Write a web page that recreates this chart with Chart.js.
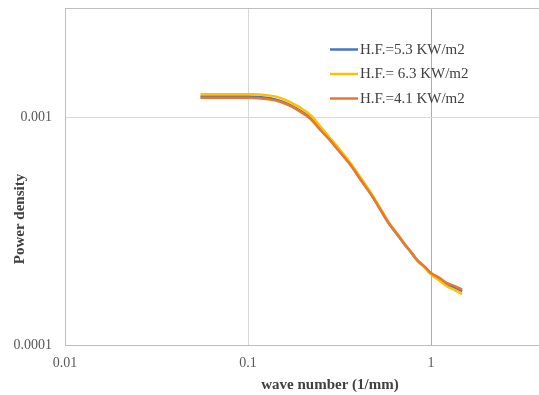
<!DOCTYPE html>
<html>
<head>
<meta charset="utf-8">
<script src="https://cdn.jsdelivr.net/npm/chart.js@4.4.1/dist/chart.umd.min.js"></script>
<style>
    html, body { margin: 0; padding: 0; background: #ffffff; }
    #wrap { width: 539px; height: 395px; }
</style>
</head>
<body>
<div id="wrap"><canvas id="spectrumChart"></canvas></div>
<script>
// wave number (1/mm), shared by all three runs
const waveNumber = [0.055, 0.07, 0.1, 0.13, 0.15, 0.17, 0.19, 0.22, 0.25, 0.28, 0.32, 0.36, 0.42,
    0.48, 0.53, 0.59, 0.65, 0.72, 0.78, 0.84, 0.92, 1.0, 1.1, 1.22, 1.35, 1.48];

// power density per heat flux
const hf53 = [0.001232, 0.001232, 0.001232, 0.001212, 0.001177, 0.001128, 0.001074, 0.000988, 0.000881,
    0.000795, 0.000699, 0.000624, 0.000522, 0.000447, 0.000392, 0.00034, 0.000307, 0.000275, 0.000254,
    0.000235, 0.00022, 0.000206, 0.000196, 0.000185, 0.0001785, 0.0001725];
const hf63 = [0.001258, 0.001259, 0.00126, 0.001245, 0.001214, 0.001164, 0.001108, 0.00102, 0.000904,
    0.000812, 0.000714, 0.000634, 0.000531, 0.000452, 0.000397, 0.000343, 0.00031, 0.000276, 0.000255,
    0.000236, 0.000219, 0.000204, 0.000193, 0.000181, 0.0001742, 0.0001675];
const hf41 = [0.001215, 0.001215, 0.001216, 0.001197, 0.001167, 0.001119, 0.001065, 0.00098, 0.000873,
    0.000792, 0.000697, 0.000622, 0.00052, 0.000446, 0.000391, 0.000341, 0.000308, 0.000276, 0.000255,
    0.000236, 0.000221, 0.000207, 0.000198, 0.000187, 0.0001814, 0.0001753];

const seriesLabels = ['H.F.=5.3 KW/m2', 'H.F.= 6.3 KW/m2', 'H.F.=4.1 KW/m2'];
const seriesColors = ['#4677C0', '#FFC000', '#E8782F'];

const xTicks = [0.01, 0.1, 1];
const yTicks = [0.0001, 0.001];
const xTitle = 'wave number (1/mm)';
const yTitle = 'Power density';

const serif = "'Liberation Serif', 'Times New Roman', serif";

function toPoints(values) {
    return waveNumber.map((x, i) => ({ x: x, y: values[i] }));
}

// frame around the plot, the legend inside it and both axis titles
const decorations = {
    id: 'decorations',
    beforeDatasetsDraw(chart) {
        const { ctx, chartArea } = chart;
        ctx.save();
        ctx.strokeStyle = '#BFBFBF';
        ctx.lineWidth = 1;
        ctx.strokeRect(chartArea.left + 0.5, chartArea.top + 0.5,
            chartArea.right - chartArea.left, chartArea.bottom - chartArea.top);
        ctx.restore();
    },
    afterDraw(chart) {
        const ctx = chart.ctx;
        ctx.save();

        // legend
        ctx.font = '15px ' + serif;
        ctx.textBaseline = 'middle';
        ctx.textAlign = 'left';
        chart.data.datasets.forEach((ds, i) => {
            const y = 49.5 + i * 24.5;
            ctx.strokeStyle = ds.borderColor;
            ctx.lineWidth = 2.5;
            ctx.beginPath();
            ctx.moveTo(330, y);
            ctx.lineTo(358, y);
            ctx.stroke();
            ctx.fillStyle = '#404040';
            ctx.fillText(ds.label, 360, y + 0.5);
        });

        // axis titles
        ctx.font = 'bold 15px ' + serif;
        ctx.fillStyle = '#404040';
        ctx.textAlign = 'center';
        ctx.fillText(xTitle, 330, 385);

        ctx.translate(20, 219);
        ctx.rotate(-Math.PI / 2);
        ctx.fillText(yTitle, 0, 0);
        ctx.restore();
    }
};

const datasets = [hf53, hf63, hf41].map((values, i) => ({
    label: seriesLabels[i],
    data: toPoints(values),
    borderColor: seriesColors[i],
    backgroundColor: seriesColors[i],
    borderWidth: 2.5,
    pointRadius: 0,
    cubicInterpolationMode: 'monotone',
    fill: false,
    // 4.1 drawn on top, 5.3 underneath
    order: 3 - i
}));

const ctx = document.getElementById('spectrumChart').getContext('2d');

new Chart(ctx, {
    type: 'line',
    data: { datasets: datasets },
    options: {
        responsive: true,
        maintainAspectRatio: false,
        devicePixelRatio: 1,
        animation: false,
        layout: { padding: { top: 8, right: 0, bottom: 0, left: 0 } },
        plugins: {
            legend: { display: false },
            tooltip: { enabled: false }
        },
        scales: {
            x: {
                type: 'logarithmic',
                min: 0.01,
                max: 3.89,
                afterBuildTicks: (scale) => { scale.ticks = xTicks.map(v => ({ value: v })); },
                afterFit: (scale) => {
                    scale.height = 50;
                    scale.paddingLeft = 0;
                    scale.paddingRight = 0;
                },
                ticks: {
                    callback: (value) => String(value),
                    color: '#595959',
                    font: { family: serif, size: 14 },
                    padding: 10,
                    maxRotation: 0,
                    autoSkip: false
                },
                grid: {
                    color: (c) => (c.tick && c.tick.value === 1) ? '#ADADAD' : '#D9D9D9',
                    drawTicks: false
                },
                border: { display: false }
            },
            y: {
                type: 'logarithmic',
                min: 0.0001,
                max: 0.00301,
                afterBuildTicks: (scale) => { scale.ticks = yTicks.map(v => ({ value: v })); },
                afterFit: (scale) => {
                    scale.width = 65;
                    scale.paddingTop = 0;
                    scale.paddingBottom = 0;
                },
                ticks: {
                    callback: (value) => String(value),
                    color: '#595959',
                    font: { family: serif, size: 14 },
                    padding: 13,
                    autoSkip: false
                },
                grid: {
                    color: '#D9D9D9',
                    drawTicks: false
                },
                border: { display: false }
            }
        }
    },
    plugins: [decorations]
});
</script>
</body>
</html>
